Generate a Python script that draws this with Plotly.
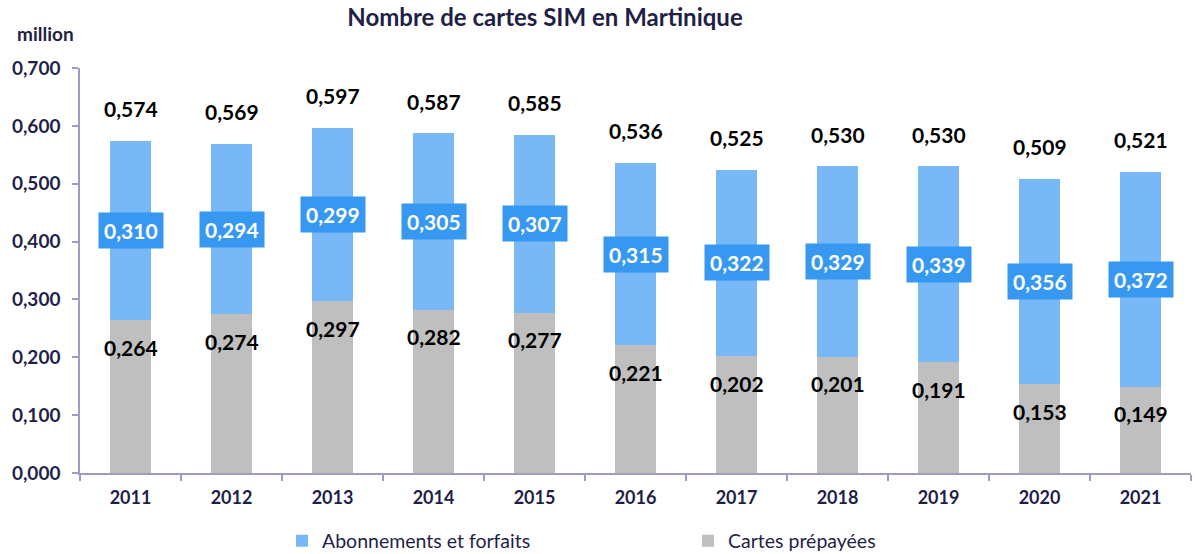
import plotly.graph_objects as go

years = ["2011", "2012", "2013", "2014", "2015", "2016", "2017", "2018", "2019", "2020", "2021"]
prepaid = [0.264, 0.274, 0.297, 0.282, 0.277, 0.221, 0.202, 0.201, 0.191, 0.153, 0.149]
subscriptions = [0.310, 0.294, 0.299, 0.305, 0.307, 0.315, 0.322, 0.329, 0.339, 0.356, 0.372]
totals = [0.574, 0.569, 0.597, 0.587, 0.585, 0.536, 0.525, 0.530, 0.530, 0.509, 0.521]
y_ticks = [0.0, 0.1, 0.2, 0.3, 0.4, 0.5, 0.6, 0.7]

NAVY = "#1f1f48"
BLUE = "#78b8f6"
BLUE_BOX = "#3698f0"
GRAY = "#bfbfbf"
AXIS = "#9c9cc4"
FONT = "Lato"


def fmt(v):
    return f"{v:.3f}".replace(".", ",")


fig = go.Figure()
fig.add_trace(go.Bar(
    x=years, y=prepaid, name="Cartes prépayées",
    marker=dict(color=GRAY, line=dict(width=0)), width=0.4, legendrank=2,
))
fig.add_trace(go.Bar(
    x=years, y=subscriptions, name="Abonnements et forfaits",
    marker=dict(color=BLUE, line=dict(width=0)), width=0.4, legendrank=1,
))

annotations = []
for i, (p, s, t) in enumerate(zip(prepaid, subscriptions, totals)):
    # prepaid value just under the top of the grey segment
    annotations.append(dict(
        x=i, y=p, yshift=-27, text=f"<b>{fmt(p)}</b>", showarrow=False,
        font=dict(family=FONT, size=21, color="black"),
    ))
    # subscription value in a boxed label at the middle of the blue segment
    annotations.append(dict(
        x=i, y=p + s / 2, text=f"<b>{fmt(s)}</b>", showarrow=False,
        font=dict(family=FONT, size=21, color="white"),
        bgcolor=BLUE_BOX, borderpad=5,
    ))
    # total above the bar
    annotations.append(dict(
        x=i, y=t, yshift=32, text=f"<b>{fmt(t)}</b>", showarrow=False,
        font=dict(family=FONT, size=21, color="black"),
    ))

annotations.append(dict(
    xref="paper", yref="paper", x=-0.0315, y=1 + (68 - 33) / 405,
    xanchor="center", yanchor="middle", text="<b>million</b>",
    showarrow=False, font=dict(family=FONT, size=19, color=NAVY),
))

fig.update_layout(
    width=1195, height=554,
    margin=dict(l=80, r=4, t=68, b=81, autoexpand=False),
    paper_bgcolor="white", plot_bgcolor="white",
    barmode="stack",
    separators=", ",
    font=dict(family=FONT, color=NAVY),
    title=dict(
        text="<b>Nombre de cartes SIM en Martinique</b>",
        x=545 / 1195, xanchor="center", xref="container",
        y=1 - 18 / 554, yanchor="middle", yref="container",
        font=dict(family=FONT, size=24, color=NAVY),
    ),
    xaxis=dict(
        type="category", tickson="boundaries",
        range=[-0.5, len(years) - 0.5], autorange=False,
        showline=True, linecolor=AXIS, linewidth=1.5,
        ticks="outside", ticklen=6, tickcolor=AXIS, tickwidth=1.5,
        tickfont=dict(family=FONT, size=18, color=NAVY, weight="bold"),
        tickangle=0, showgrid=False, ticklabelstandoff=8,
    ),
    yaxis=dict(
        range=[0, 0.7], autorange=False, tickvals=y_ticks, tickformat=".3f",
        showline=True, linecolor=AXIS, linewidth=1.5,
        ticks="outside", ticklen=6, tickcolor=AXIS, tickwidth=1.5,
        tickfont=dict(family=FONT, size=19, color=NAVY, weight="bold"),
        showgrid=False, zeroline=False, ticklabelstandoff=8,
    ),
    legend=dict(
        orientation="h", x=(282 - 80) / 1111, xanchor="left",
        y=-68 / 405, yanchor="middle",
        entrywidth=361, entrywidthmode="pixels", itemwidth=30,
        font=dict(family=FONT, size=19.5, color=NAVY),
        traceorder="normal",
    ),
    annotations=annotations,
)

fig.write_html("out.html")
